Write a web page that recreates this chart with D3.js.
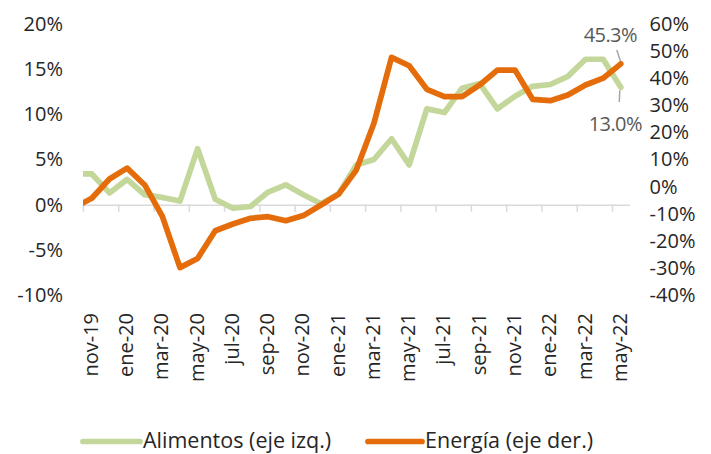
<!DOCTYPE html>
<html>
<head>
<meta charset="utf-8">
<script src="https://cdn.jsdelivr.net/npm/d3@7"></script>
<style>
    body { margin: 0; background: #fff; }
    text { font-family: "Open Sans", sans-serif; }
</style>
</head>
<body>
<div id="main"></div>
<script>
/// data ///
// oct-19 only feeds the clipped line stub at the left edge
const months = ['oct-19', 'nov-19', 'dic-19', 'ene-20', 'feb-20', 'mar-20', 'abr-20', 'may-20', 'jun-20', 'jul-20',
    'ago-20', 'sep-20', 'oct-20', 'nov-20', 'dic-20', 'ene-21', 'feb-21', 'mar-21', 'abr-21', 'may-21', 'jun-21',
    'jul-21', 'ago-21', 'sep-21', 'oct-21', 'nov-21', 'dic-21', 'ene-22', 'feb-22', 'mar-22', 'abr-22', 'may-22'];

const alimentos = [3.4, 3.4, 1.3, 2.8, 1.1, 0.8, 0.4, 6.2, 0.6, -0.4, -0.2, 1.4, 2.2, 1.1, 0.1, 1.2,
    4.4, 5.0, 7.3, 4.4, 10.6, 10.2, 12.9, 13.4, 10.6, 12.0, 13.1, 13.3, 14.2, 16.1, 16.1, 13.0];

const energia = [-7.7, -4.3, 2.8, 6.8, 0.6, -11.0, -29.9, -26.5, -16.3, -13.8, -11.7, -11.1, -12.6, -10.7, -6.8, -2.8,
    6.1, 23.4, 47.7, 44.6, 35.9, 33.2, 33.2, 37.5, 43.0, 43.0, 32.2, 31.7, 33.8, 37.5, 40.0, 45.3];

const leftTicks = [-10, -5, 0, 5, 10, 15, 20];
const rightTicks = [-40, -30, -20, -10, 0, 10, 20, 30, 40, 50, 60];

const seriesNames = ['Alimentos (eje izq.)', 'Energía (eje der.)'];
const green = '#c4d79b';
const orange = '#e46c0a';

/// chart ///
const w = 711;
const h = 454;
const padL = 83, padR = 629.6, padT = 24, padB = 295;
const tickFont = '20px';

let svg = d3.select('#main')
    .append('svg')
    .attr('width', w)
    .attr('height', h);

// x: month index, category centers, first shown month (nov-19) at index 1
let xScale = d3.scaleLinear()
    .domain([0.5, months.length - 0.5])
    .range([padL, padR]);

let yLeft = d3.scaleLinear().domain([-10, 20]).range([padB, padT]);
let yRight = d3.scaleLinear().domain([-40, 60]).range([padB, padT]);

// left axis labels
let yAxisL = d3.axisLeft(yLeft)
    .tickValues(leftTicks)
    .tickSize(0)
    .tickPadding(20)
    .tickFormat(d => d + '%');

svg.append('g')
    .attr('transform', 'translate(' + padL + ',0)')
    .call(yAxisL)
    .call(g => g.select('.domain').remove())
    .selectAll('text')
    .style('font-size', tickFont)
    .attr('fill', '#262626');

// right axis labels
let yAxisR = d3.axisRight(yRight)
    .tickValues(rightTicks)
    .tickSize(0)
    .tickPadding(20)
    .tickFormat(d => d + '%');

svg.append('g')
    .attr('transform', 'translate(' + padR + ',0)')
    .call(yAxisR)
    .call(g => g.select('.domain').remove())
    .selectAll('text')
    .style('font-size', tickFont)
    .attr('fill', '#262626');

// zero line with tick marks between every 2 months
let xTicks = d3.axisBottom(xScale)
    .tickValues(d3.range(0.5, months.length - 1, 2))
    .tickSize(7)
    .tickSizeOuter(0)
    .tickFormat('');

svg.append('g')
    .attr('transform', 'translate(0,' + yLeft(0) + ')')
    .call(xTicks)
    .call(g => g.selectAll('line, path').attr('stroke', '#d9d9d9').attr('stroke-width', 1.5));

// month labels every 2 months
svg.append('g')
    .selectAll('text')
    .data(d3.range(1, months.length, 2))
    .enter()
    .append('text')
    .attr('transform', i => 'translate(' + (xScale(i) - 1) + ',313) rotate(-90)')
    .attr('dy', '0.35em')
    .style('text-anchor', 'end')
    .style('font-size', tickFont)
    .attr('fill', '#262626')
    .text(i => months[i]);

/// lines ///
svg.append('clipPath')
    .attr('id', 'plot-clip')
    .append('rect')
    .attr('x', padL)
    .attr('y', 0)
    .attr('width', padR - padL)
    .attr('height', h);

let plot = svg.append('g').attr('clip-path', 'url(#plot-clip)');

let lineL = d3.line()
    .x((d, i) => xScale(i))
    .y(d => yLeft(d));

let lineR = d3.line()
    .x((d, i) => xScale(i))
    .y(d => yRight(d));

plot.append('path')
    .datum(alimentos)
    .attr('d', lineL)
    .attr('fill', 'none')
    .attr('stroke', green)
    .attr('stroke-width', 5.7)
    .attr('stroke-linejoin', 'round')
    .attr('stroke-linecap', 'round');

plot.append('path')
    .datum(energia)
    .attr('d', lineR)
    .attr('fill', 'none')
    .attr('stroke', orange)
    .attr('stroke-width', 5.7)
    .attr('stroke-linejoin', 'round')
    .attr('stroke-linecap', 'round');

/// end labels with leader lines ///
let last = months.length - 1;
let xl = xScale(last);

svg.append('line')          // energía leader
    .attr('x1', xl - 4).attr('y1', 50)
    .attr('x2', xl - 0.5).attr('y2', yRight(energia[last]) - 3)
    .attr('stroke', '#a6a6a6').attr('stroke-width', 1.5);

svg.append('text')
    .attr('x', xl - 37)
    .attr('y', 42)
    .style('font-size', '20px')
    .style('letter-spacing', '-0.6px')
    .attr('fill', '#595959')
    .text(energia[last].toFixed(1) + '%');

svg.append('line')          // alimentos leader
    .attr('x1', xl - 1).attr('y1', yLeft(alimentos[last]) + 3)
    .attr('x2', xl - 1.5).attr('y2', 102)
    .attr('stroke', '#a6a6a6').attr('stroke-width', 1.5);

svg.append('text')
    .attr('x', xl - 32)
    .attr('y', 131)
    .style('font-size', '20px')
    .style('letter-spacing', '-0.6px')
    .attr('fill', '#595959')
    .text(alimentos[last].toFixed(1) + '%');

/// legend ///
let legend = svg.append('g');
let legendItems = [
    { name: seriesNames[0], color: green, x1: 83, x2: 140 },
    { name: seriesNames[1], color: orange, x1: 368, x2: 422 }
];

legendItems.forEach(d => {
    legend.append('line')
        .attr('x1', d.x1).attr('x2', d.x2)
        .attr('y1', 441.5).attr('y2', 441.5)
        .attr('stroke', d.color)
        .attr('stroke-width', 5.7)
        .attr('stroke-linecap', 'round');
    legend.append('text')
        .attr('x', d.x2 + 3)
        .attr('y', 447.5)
        .style('font-size', '21.5px')
        .attr('fill', '#262626')
        .text(d.name);
});
</script>
</body>
</html>
